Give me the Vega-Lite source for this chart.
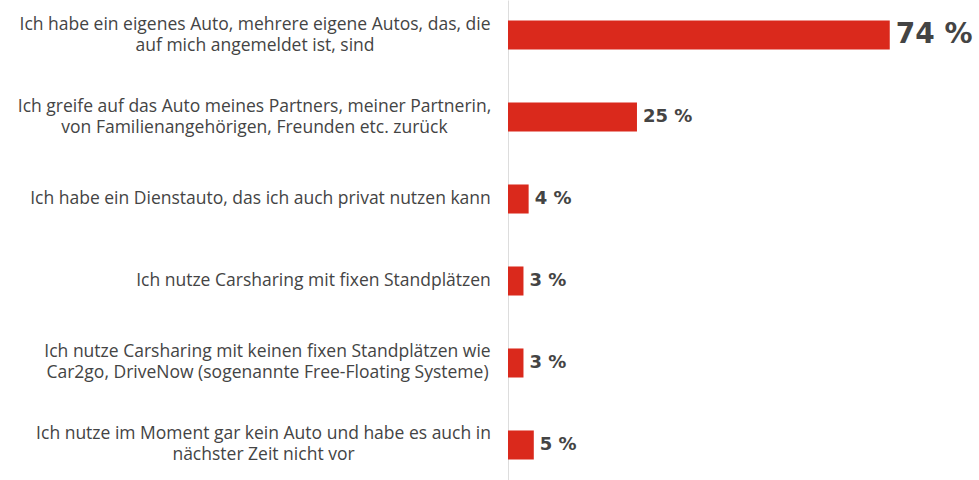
{
  "$schema": "https://vega.github.io/schema/vega-lite/v6.json",
  "width": 471,
  "height": 480,
  "autosize": {"type": "none"},
  "padding": {"left": 508, "top": 0, "right": 0, "bottom": 0},
  "background": "white",
  "config": {"view": {"stroke": null}, "font": "Open Sans"},
  "data": {"values": [
    {"cat": "Ich habe ein eigenes Auto, mehrere eigene Autos, das, die|auf mich angemeldet ist, sind", "value": 74, "label": "74 %"},
    {"cat": "Ich greife auf das Auto meines Partners, meiner Partnerin,|von Familienangehörigen, Freunden etc. zurück", "value": 25, "label": "25 %"},
    {"cat": "Ich habe ein Dienstauto, das ich auch privat nutzen kann", "value": 4, "label": "4 %"},
    {"cat": "Ich nutze Carsharing mit fixen Standplätzen", "value": 3, "label": "3 %"},
    {"cat": "Ich nutze Carsharing mit keinen fixen Standplätzen wie|Car2go, DriveNow (sogenannte Free-Floating Systeme)", "value": 3, "label": "3 %"},
    {"cat": "Ich nutze im Moment gar kein Auto und habe es auch in|nächster Zeit nicht vor", "value": 5, "label": "5 %"}
  ]},
  "encoding": {
    "y": {
      "field": "cat", "type": "nominal", "sort": null,
      "scale": {"paddingInner": 0.646, "paddingOuter": 0.25},
      "axis": {
        "title": null, "ticks": false,
        "labelAlign": "center",
        "labelPadding": {"condition": [
          {"test": "indexof(datum.value, 'eigenes') >= 0", "value": 253.5},
          {"test": "indexof(datum.value, 'greife') >= 0", "value": 254},
          {"test": "indexof(datum.value, 'Dienstauto') >= 0", "value": 248},
          {"test": "indexof(datum.value, 'mit fixen') >= 0", "value": 195},
          {"test": "indexof(datum.value, 'keinen') >= 0", "value": 241}
        ], "value": 245},
        "labelOffset": {"condition": {"test": "indexof(datum.value, '|') >= 0", "value": -10.5}, "value": 0},
        "labelExpr": "split(datum.value, '|')",
        "labelFont": "Open Sans", "labelFontSize": 17.5, "labelColor": "#444444",
        "labelLineHeight": 21, "labelLimit": 520,
        "domainColor": "#dddddd", "domainWidth": 1
      }
    },
    "x": {
      "field": "value", "type": "quantitative",
      "scale": {"domain": [0, 91.3], "nice": false},
      "axis": null
    }
  },
  "layer": [
    {"mark": {"type": "bar", "color": "#da291c"}},
    {
      "mark": {"type": "text", "align": "left", "baseline": "middle", "dx": 6, "fontWeight": "bold", "color": "#444444", "font": "DejaVu Sans"},
      "encoding": {
        "text": {"field": "label"},
        "size": {"condition": {"test": "datum.value > 50", "value": 28}, "value": 18}
      }
    }
  ]
}
